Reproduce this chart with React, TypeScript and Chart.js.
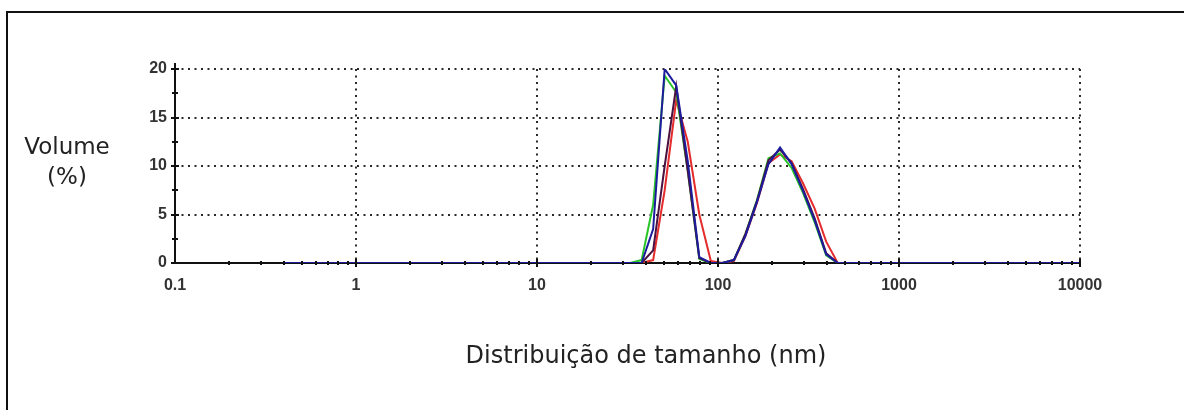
import React, { useEffect, useRef } from "react";
import { Chart, registerables } from "chart.js";

Chart.register(...registerables);

// Size classes (nm)
const sizeClasses = [
  0.4, 0.4632, 0.5365, 0.6213, 0.7195, 0.8332, 0.9649, 1.117, 1.294, 1.499,
  1.736, 2.01, 2.328, 2.696, 3.122, 3.615, 4.187, 4.849, 5.615, 6.503,
  7.531, 8.721, 10.1, 11.7, 13.54, 15.69, 18.17, 21.04, 24.36, 28.21,
  32.67, 37.84, 43.82, 50.75, 58.77, 68.06, 78.82, 91.28, 105.7, 122.4,
  141.8, 164.2, 190.1, 220.2, 255, 295.3, 342, 396.1, 458.7, 531.2,
  615.1, 712.4, 825, 955.4, 1106, 1281, 1484, 1718, 1990, 2305,
  2669, 3091, 3580, 4145, 4801, 5560, 6439, 7456, 8635, 10000,
];

// Volume (%) per size class
const blueVolume = [
  0, 0, 0, 0, 0, 0, 0, 0, 0, 0,
  0, 0, 0, 0, 0, 0, 0, 0, 0, 0,
  0, 0, 0, 0, 0, 0, 0, 0, 0, 0,
  0, 0, 3.5, 20, 18.3, 10.5, 0.6, 0, 0, 0.3,
  2.8, 6.3, 10.2, 11.9, 10.2, 7.4, 4.4, 0.9, 0, 0,
  0, 0, 0, 0, 0, 0, 0, 0, 0, 0,
  0, 0, 0, 0, 0, 0, 0, 0, 0, 0,
];
const purpleVolume = [
  0, 0, 0, 0, 0, 0, 0, 0, 0, 0,
  0, 0, 0, 0, 0, 0, 0, 0, 0, 0,
  0, 0, 0, 0, 0, 0, 0, 0, 0, 0,
  0, 0, 1.3, 10, 18.2, 9.5, 0.5, 0, 0, 0.3,
  3, 6.4, 10.6, 11.7, 10.3, 7.6, 4.6, 1, 0, 0,
  0, 0, 0, 0, 0, 0, 0, 0, 0, 0,
  0, 0, 0, 0, 0, 0, 0, 0, 0, 0,
];
const greenVolume = [
  0, 0, 0, 0, 0, 0, 0, 0, 0, 0,
  0, 0, 0, 0, 0, 0, 0, 0, 0, 0,
  0, 0, 0, 0, 0, 0, 0, 0, 0, 0,
  0, 0.3, 6, 19.3, 17.6, 9.5, 0.4, 0, 0, 0.3,
  3, 6.5, 10.8, 11.3, 9.8, 7.2, 4.2, 0.8, 0, 0,
  0, 0, 0, 0, 0, 0, 0, 0, 0, 0,
  0, 0, 0, 0, 0, 0, 0, 0, 0, 0,
];
const redVolume = [
  0, 0, 0, 0, 0, 0, 0, 0, 0, 0,
  0, 0, 0, 0, 0, 0, 0, 0, 0, 0,
  0, 0, 0, 0, 0, 0, 0, 0, 0, 0,
  0, 0, 0.3, 7.5, 16.8, 12.5, 5, 0.2, 0, 0.2,
  2.8, 6.2, 10.3, 11.2, 10.5, 8.2, 5.6, 2.2, 0, 0,
  0, 0, 0, 0, 0, 0, 0, 0, 0, 0,
  0, 0, 0, 0, 0, 0, 0, 0, 0, 0,
];

const xTickValues = [0.1, 1, 10, 100, 1000, 10000];
const xTickLabels = ["0.1", "1", "10", "100", "1000", "10000"];
const yTickValues = [0, 5, 10, 15, 20];
const yTickLabels = ["0", "5", "10", "15", "20"];
const yMinorValues = [2.5, 7.5, 12.5, 17.5];

const toPoints = (vals: number[]) => sizeClasses.map((s, i) => ({ x: s, y: vals[i] }));

export default function App() {
  const canvasRef = useRef<HTMLCanvasElement>(null);

  useEffect(() => {
    const canvas = canvasRef.current;
    if (!canvas) return;

    const gridPlugin = {
      id: "dottedGrid",
      beforeDatasetsDraw(chart: any) {
        const { ctx, chartArea, scales } = chart;
        const x = scales.x;
        const y = scales.y;
        ctx.save();
        ctx.strokeStyle = "#2a2a2a";
        ctx.lineWidth = 2;
        ctx.setLineDash([2, 4.5]);
        yTickValues.forEach((v) => {
          if (v === 0) return;
          const py = Math.round(y.getPixelForValue(v));
          ctx.beginPath();
          ctx.moveTo(chartArea.left, py);
          ctx.lineTo(chartArea.right, py);
          ctx.stroke();
        });
        xTickValues.forEach((v, i) => {
          if (i === 0) return;
          const px = Math.round(x.getPixelForValue(v));
          ctx.beginPath();
          ctx.moveTo(px, chartArea.top);
          ctx.lineTo(px, chartArea.bottom);
          ctx.stroke();
        });
        ctx.setLineDash([]);
        ctx.strokeStyle = "#111";
        ctx.lineWidth = 2;
        ctx.beginPath();
        ctx.moveTo(chartArea.left, chartArea.top - 6);
        ctx.lineTo(chartArea.left, chartArea.bottom);
        ctx.lineTo(chartArea.right, chartArea.bottom);
        ctx.stroke();
        ctx.restore();
      },
      afterDatasetsDraw(chart: any) {
        const { ctx, chartArea, scales } = chart;
        const x = scales.x;
        const y = scales.y;
        ctx.save();
        ctx.strokeStyle = "#111";
        ctx.lineWidth = 2;
        yTickValues.forEach((v) => {
          const py = Math.round(y.getPixelForValue(v));
          ctx.beginPath();
          ctx.moveTo(chartArea.left - 4, py);
          ctx.lineTo(chartArea.left + 4, py);
          ctx.stroke();
        });
        yMinorValues.forEach((v) => {
          const py = Math.round(y.getPixelForValue(v));
          ctx.beginPath();
          ctx.moveTo(chartArea.left - 3, py);
          ctx.lineTo(chartArea.left + 3, py);
          ctx.stroke();
        });
        xTickValues.forEach((v, i) => {
          if (i === 0) return;
          const px = Math.round(x.getPixelForValue(v));
          ctx.beginPath();
          ctx.moveTo(px, chartArea.bottom - 4);
          ctx.lineTo(px, chartArea.bottom + 4);
          ctx.stroke();
        });
        xTickValues.forEach((v, i) => {
          if (i === xTickValues.length - 1) return;
          for (let m = 2; m <= 9; m++) {
            const px = Math.round(x.getPixelForValue(v * m));
            ctx.beginPath();
            ctx.moveTo(px, chartArea.bottom - 2);
            ctx.lineTo(px, chartArea.bottom + 2);
            ctx.stroke();
          }
        });
        ctx.restore();
      },
    };

    const mk = (label: string, vals: number[], color: string) => ({
      label,
      data: toPoints(vals),
      borderColor: color,
      backgroundColor: color,
      borderWidth: 2,
      pointRadius: 0,
      tension: 0,
      fill: false,
    });

    const chart = new Chart(canvas, {
      type: "line",
      data: {
        datasets: [
          mk("Blue", blueVolume, "#1c1c9c"),
          mk("Purple", purpleVolume, "#4a1040"),
          mk("Green", greenVolume, "#28c428"),
          mk("Red", redVolume, "#e42c2c"),
        ],
      },
      options: {
        animation: false,
        responsive: false,
        events: [],
        layout: { padding: { top: 69, right: 104, left: 0, bottom: 0 } },
        plugins: { legend: { display: false }, tooltip: { enabled: false } },
        scales: {
          x: {
            type: "logarithmic",
            min: 0.1,
            max: 10000,
            afterBuildTicks: (s: any) => {
              s.ticks = xTickValues.map((v) => ({ value: v }));
            },
            afterFit: (s: any) => {
              s.height = 147;
            },
            ticks: {
              autoSkip: false,
              maxRotation: 0,
              minRotation: 0,
              padding: 13,
              color: "#333",
              font: { family: "'Liberation Sans', Arial, sans-serif", weight: "bold", size: 16 },
              callback: (_v: any, i: number) => xTickLabels[i],
            },
            grid: { display: false, drawTicks: false },
            border: { display: false },
          },
          y: {
            type: "linear",
            min: 0,
            max: 20,
            afterBuildTicks: (s: any) => {
              s.ticks = yTickValues.map((v) => ({ value: v }));
            },
            afterFit: (s: any) => {
              s.width = 175;
            },
            ticks: {
              autoSkip: false,
              padding: 8,
              color: "#333",
              font: { family: "'Liberation Sans', Arial, sans-serif", weight: "bold", size: 16 },
              callback: (_v: any, i: number) => yTickLabels[i],
            },
            grid: { display: false, drawTicks: false },
            border: { display: false },
          },
        },
      } as any,
      plugins: [gridPlugin],
    });

    return () => chart.destroy();
  }, []);

  const textStyle: React.CSSProperties = {
    position: "absolute",
    fontFamily: "'DejaVu Sans', Verdana, sans-serif",
    fontSize: 23,
    color: "#222",
    whiteSpace: "nowrap",
  };

  return (
    <div style={{ position: "absolute", left: 0, top: 0, width: 1184, height: 410, overflow: "hidden", background: "#fff" }}>
      <div
        style={{
          position: "absolute",
          left: 6,
          top: 11,
          width: 1220,
          height: 440,
          border: "2px solid #111",
          boxSizing: "border-box",
        }}
      />
      <canvas ref={canvasRef} width={1184} height={410} style={{ position: "absolute", left: 0, top: 0, display: "block" }} />
      <div style={{ ...textStyle, left: 0, width: 134, top: 131, textAlign: "center", lineHeight: "30px" }}>
        Volume
        <br />
        (%)
      </div>
      <div style={{ ...textStyle, fontSize: 24, left: 346, width: 600, top: 340, textAlign: "center", lineHeight: "30px" }}>
        Distribuição de tamanho (nm)
      </div>
    </div>
  );
}
